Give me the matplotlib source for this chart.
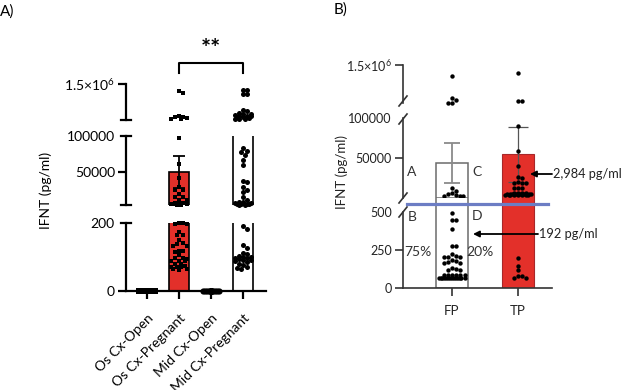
import numpy as np
import matplotlib
matplotlib.use('Agg')
import matplotlib.pyplot as plt
from matplotlib.lines import Line2D

plt.rcParams['font.family'] = ['Lato', 'DejaVu Sans']
plt.rcParams['mathtext.default'] = 'regular'

W, H = 622, 390

# ---------------- panel A data ----------------
groups_a = ['Os Cx-Open', 'Os Cx-Pregnant', 'Mid Cx-Open', 'Mid Cx-Pregnant']
means_a = [0, 50000, 0, 300000]
sd_a = [0, 22000, 0, 0]
os_open = [0] * 26
os_preg = [1.375e6, 1.403e6,
           1.03e6, 1.04e6, 1.05e6, 1.02e6, 1.01e6, 1.04e6,
           97000, 61000, 42000, 29000, 25000, 25000, 19000, 15000, 15000,
           11000, 11000, 7000, 6500, 6000, 5500, 5000, 5000, 4500, 4500,
           200, 199, 198, 197, 175, 166, 164, 150, 141, 139, 132, 131,
           118, 117, 116, 105, 97, 96, 95, 89, 88, 87, 80, 79,
           73, 72, 71, 70, 65, 64, 63]
mid_open = [0] * 26
mid_preg = [1.42e6, 1.42e6, 1.36e6, 1.36e6,
            1.14e6, 1.12e6, 1.10e6, 1.09e6, 1.08e6, 1.07e6, 1.06e6, 1.06e6,
            1.05e6, 1.04e6, 1.04e6, 1.03e6, 1.02e6, 1.01e6, 1.01e6,
            83000, 79000, 77800, 73600, 66700, 60000, 37500, 36000, 29000,
            25000, 22000, 15000, 11000, 8000, 7500, 7000, 6500, 6000, 5500,
            5000, 5000, 4500, 4500,
            191, 182, 135, 126, 112, 108, 104, 101, 99, 98, 96, 94, 92,
            90, 88, 85, 80, 76, 72, 68, 64]
values_a = [os_open, os_preg, mid_open, mid_preg]

# ---------------- panel B data ----------------
groups_b = ['FP', 'TP']
means_b = [44000, 54800]
sd_b = [25000, 34000]
fp_vals = [1.355e6, 1.0e6, 1.04e6, 1.065e6, 1.0e6,
           12900, 9200, 6700, 5500, 4200, 3000, 3000, 2500,
           493, 447, 447, 388, 276, 276, 223, 210, 204, 204, 204,
           184, 178, 170, 164, 164, 132, 125, 118, 118,
           86, 86, 86, 86, 86, 86,
           66, 66, 66, 66, 66, 66, 66, 66, 66, 66, 66, 66, 66, 66]
tp_vals = [1.395e6, 1.02e6, 1.02e6,
           90000, 59300, 40500, 26600, 25400, 20400, 19200, 19200, 19200,
           12900, 12900, 12900,
           6700, 6500, 6300, 6100, 6000, 5800, 5600, 5500, 5300, 5100,
           5000, 4900, 4700, 4600, 4500, 4400, 4300, 4200, 4200, 4200,
           197, 145, 118, 79, 79, 66, 66]

red = '#e3302a'
blue_line = '#6c7dc4'

fig = plt.figure(figsize=(W / 100, H / 100), dpi=100)


def pax(x0, y0, x1, y1):
    # axes placed by pixel box (top-left origin)
    return fig.add_axes([x0 / W, 1 - y1 / H, (x1 - x0) / W, (y1 - y0) / H])


def fline(xs, ys, **kw):
    fig.add_artist(Line2D([x / W for x in xs], [1 - y / H for y in ys], **kw))


def swarm(ys, d, half):
    # simple column scatter, like Prism: spread points that sit close together
    step = d / 2.0
    cands = [0.0]
    k = 1
    while k * step <= half:
        cands += [k * step, -k * step]
        k += 1
    xs = np.zeros(len(ys))
    placed = []
    for i in np.argsort(ys):
        best = None
        for c in cands:
            if all((c - px) ** 2 + (ys[i] - py) ** 2 >= d * d for px, py in placed):
                best = c
                break
        if best is None:
            best = max(cands, key=lambda c: min((c - px) ** 2 + (ys[i] - py) ** 2
                                                 for px, py in placed))
        xs[i] = best
        placed.append((best, ys[i]))
    return xs


def draw_panel(segs, xlim, xpx, groups, vals, means, bar_w, styles, dot, half):
    # segs: list of (ax, (lo, hi), (ytop_px, ybot_px))
    ppu = (xpx[1] - xpx[0]) / (xlim[1] - xlim[0])
    for ax, (lo, hi), _ in segs:
        ax.set_xlim(*xlim)
        ax.set_ylim(lo, hi)
        ax.set_facecolor('none')
        for s in ['top', 'right', 'bottom']:
            ax.spines[s].set_visible(False)
        ax.set_xticks([])
        for i, m in enumerate(means):
            st = styles[i]
            if st.get('bar') is not None:
                ax.bar(i, m, width=bar_w, color=st['bar'], edgecolor=st['edge'],
                       linewidth=st['elw'], zorder=1)
    for gi, vs in enumerate(vals):
        vs = np.asarray(vs, dtype=float)
        seg_id = np.zeros(len(vs), dtype=int)
        ypx = np.zeros(len(vs))
        for k, v in enumerate(vs):
            for si, (ax, (lo, hi), (yt, yb)) in enumerate(segs):
                if lo - 1e-9 <= v <= hi:
                    seg_id[k] = si
                    ypx[k] = yb - (v - lo) / (hi - lo) * (yb - yt)
                    break
        offs = swarm(ypx, dot, half) / ppu
        for si, (ax, _, _) in enumerate(segs):
            sel = seg_id == si
            if sel.any():
                ax.scatter(gi + offs[sel], vs[sel], s=styles[gi]['s'],
                           marker=styles[gi]['m'], color='black', linewidths=0,
                           clip_on=False, zorder=3)


# ================= panel A =================
axA_top = pax(126, 84, 266, 120)
axA_mid = pax(126, 136, 266, 205)
axA_bot = pax(126, 223, 266, 291)
segsA = [(axA_bot, (0, 200), (223, 291)),
         (axA_mid, (4000, 100000), (136, 205)),
         (axA_top, (1.0e6, 1.5e6), (84, 120))]
stylesA = [dict(bar=None, m='s', s=18),
           dict(bar=red, edge='black', elw=1.2, m='s', s=11),
           dict(bar=None, m='o', s=20),
           dict(bar='white', edge='black', elw=1.2, m='o', s=13)]
draw_panel(segsA, (-0.656, 3.72), (126, 266), groups_a, values_a, means_a,
           0.6, stylesA, 4.2, 9.5)
axA_mid.errorbar([1], [means_a[1]], yerr=[sd_a[1]], fmt='none', ecolor='black',
                 elinewidth=1.3, capsize=4.5, capthick=1.3, zorder=2)

for ax in [axA_top, axA_mid, axA_bot]:
    ax.spines['left'].set_linewidth(1.6)
    ax.tick_params(axis='y', length=6, width=1.6, labelsize=10, pad=2)
axA_top.set_yticks([1.5e6])
axA_top.set_yticklabels(['1.5×10$^{6}$'])
axA_mid.set_yticks([50000, 100000])
axA_mid.set_yticklabels(['50000', '100000'])
axA_mid.yaxis.get_major_ticks()[1].tick1line.set_visible(False)
axA_bot.set_yticks([0, 200])
axA_bot.set_yticklabels(['0', '200'])
axA_bot.yaxis.get_major_ticks()[1].tick1line.set_visible(False)
axA_bot.spines['bottom'].set_visible(True)
axA_bot.spines['bottom'].set_linewidth(1.6)
axA_bot.set_xticks(range(4))
axA_bot.set_xticklabels(groups_a, rotation=45, ha='right', va='top',
                        rotation_mode='anchor', fontsize=10)
axA_bot.tick_params(axis='x', length=6, width=1.6, pad=9)

# caps at axis breaks
for yc in [120, 136, 205, 223]:
    fline([121, 131], [yc, yc], color='black', lw=1.6)

# significance bracket
fline([179, 179, 243, 243], [73, 63, 63, 73], color='black', lw=1.5)
fig.text(211 / W, 1 - 50 / H, '**', ha='center', va='center', fontsize=17,
         fontweight='bold')
fig.text(46 / W, 1 - 190 / H, 'IFNT (pg/ml)', rotation=90, ha='center',
         va='center', fontsize=10)
fig.text(7 / W, 1 - 12 / H, 'A)', ha='center', va='center', fontsize=11)

# ================= panel B =================
axB_top = pax(403, 65, 552, 103)
axB_mid = pax(403, 118, 552, 198)
axB_bot = pax(403, 198, 552, 288)
segsB = [(axB_bot, (0, 592), (198, 288)),
         (axB_mid, (500, 100000), (118, 198)),
         (axB_top, (1.0e6, 1.5e6), (65, 103))]
stylesB = [dict(bar='white', edge='#6b6b6b', elw=1.1, m='o', s=10),
           dict(bar=red, edge='#a8282a', elw=0.8, m='o', s=10)]
draw_panel(segsB, (-0.742, 1.515), (403, 552), groups_b, [fp_vals, tp_vals],
           means_b, 0.485, stylesB, 3.8, 14)
axB_mid.errorbar([0], [means_b[0]], yerr=[sd_b[0]], fmt='none', ecolor='#8a8a8a',
                 elinewidth=1.3, capsize=6, capthick=1.3, zorder=2)
axB_mid.errorbar([1], [means_b[1]], yerr=[sd_b[1]], fmt='none', ecolor='#555555',
                 elinewidth=0.9, capsize=7, capthick=0.9, zorder=2)

axis_c = '#333333'
for ax in [axB_top, axB_mid, axB_bot]:
    ax.spines['left'].set_linewidth(1.2)
    ax.spines['left'].set_color(axis_c)
    ax.tick_params(axis='y', length=6, width=1.2, color=axis_c, labelsize=9,
                   labelcolor='#222222', pad=2)
axB_bot.spines['left'].set_bounds(0, 500)
axB_top.set_yticks([1.5e6])
axB_top.set_yticklabels(['1.5×10$^{6}$'])
axB_mid.set_yticks([50000, 100000])
axB_mid.set_yticklabels(['50000', '100000'])
axB_mid.yaxis.get_major_ticks()[1].tick1line.set_visible(False)
axB_bot.set_yticks([0, 250, 500])
axB_bot.set_yticklabels(['0', '250', '500'])
axB_bot.yaxis.get_major_ticks()[2].tick1line.set_visible(False)
axB_bot.spines['bottom'].set_visible(True)
axB_bot.spines['bottom'].set_linewidth(1.2)
axB_bot.spines['bottom'].set_color(axis_c)
axB_bot.set_xticks(range(2))
axB_bot.set_xticklabels(groups_b, fontsize=9.5, color='#222222')
axB_bot.tick_params(axis='x', length=6, width=1.2, color=axis_c, pad=6)

# slashes at the axis breaks
for yc in [101, 119, 198, 212]:
    fline([399, 407], [yc + 5, yc - 5], color=axis_c, lw=1.2)

# blue threshold line
fline([407, 548], [204, 204], color=blue_line, lw=2.3, zorder=5)

tc = '#333333'
for txt, x, y in [('A', 412, 172), ('C', 477, 172), ('B', 412, 217),
                  ('D', 477, 216), ('75%', 418, 252), ('20%', 480, 252)]:
    fig.text(x / W, 1 - y / H, txt, ha='center', va='center', fontsize=10,
             color=tc)

for txt, x0, x1, y in [('2,984 pg/ml', 552, 530, 174), ('192 pg/ml', 538, 473, 234)]:
    fig.add_artist(plt.Annotation('', xy=(x1, H - y), xytext=(x0, H - y),
                                  xycoords='figure pixels',
                                  textcoords='figure pixels',
                                  arrowprops=dict(arrowstyle='-|>', color='black',
                                                  lw=1.3, mutation_scale=9,
                                                  shrinkA=0, shrinkB=0)))
    fig.text((x0 + 1) / W, 1 - y / H, txt, ha='left', va='center', fontsize=9.2,
             color='#222222')

fig.text(342 / W, 1 - 172 / H, 'IFNT (pg/ml)', rotation=90, ha='center',
         va='center', fontsize=9.5, color='#222222')
fig.text(341 / W, 1 - 10 / H, 'B)', ha='center', va='center', fontsize=11)

fig.savefig('out.png', dpi=100)
